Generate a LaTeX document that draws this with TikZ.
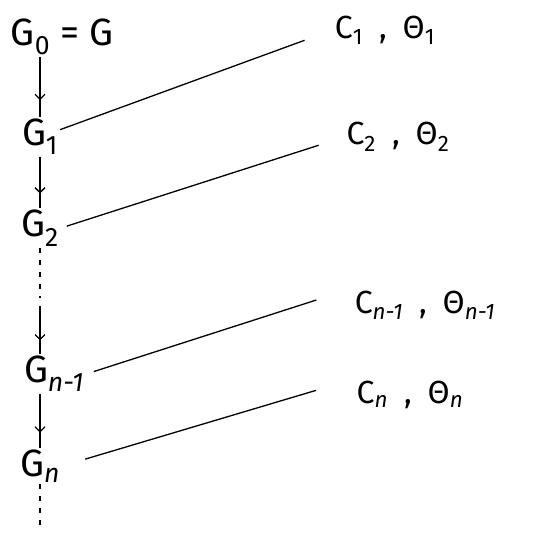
\documentclass[tikz,border=0pt]{standalone}
\usepackage{fontspec}
\setmainfont{Fira Sans}
\usetikzlibrary{arrows.meta, calc, decorations.markings}
\tikzset{
    gnode/.style={inner sep=2pt, font=\fontsize{38}{44}\selectfont},
    cnode/.style={inner sep=2pt, font=\fontsize{32}{36}\selectfont},
    link/.style={line width=1.3pt},
    midarrow/.style={line width=1.3pt, postaction={decorate},
        decoration={markings, mark=at position 0.72 with {\arrow{Straight Barb[length=5pt,width=10pt,line width=1.3pt]}}}},
    gapline/.style={line width=1.3pt, dash pattern=on 5pt off 7pt}
}

\begin{document}
\begin{tikzpicture}[x=1pt, y=-1pt]
    \useasboundingbox (0,0) rectangle (541,548);
    \node (g0) [gnode] at (62,37) {G\textsubscript{0} = G};
    \node (g1) [gnode] at (40,137) {G\textsubscript{1}};
    \node (g2) [gnode] at (40,228) {G\textsubscript{2}};
    \node (gn1) [gnode] at (54,374) {G\textsubscript{\itshape n-1}};
    \node (gn) [gnode] at (40,466) {G\textsubscript{\itshape n}};

    \node (c1) [cnode] at (385,30) {C\textsubscript{1}\enspace,\enspace Θ\textsubscript{1}};
    \node (c2) [cnode] at (398,137) {C\textsubscript{2}\enspace,\enspace Θ\textsubscript{2}};
    \node (cn1) [cnode] at (425,305) {C\textsubscript{\itshape n-1}\enspace,\enspace Θ\textsubscript{\itshape n-1}};
    \node (cn) [cnode] at (410,395) {C\textsubscript{\itshape n}\enspace,\enspace Θ\textsubscript{\itshape n}};

    \draw [midarrow] (g1.north |- g0.south) -- (g1.north);
    \draw [midarrow] (g2.north |- g1.south) -- (g2.north);
    \draw [gapline] (g2.south) -- ++(0,50);
    \draw [midarrow] ($(gn.north |- gn1.north)+(0,-48)$) -- (gn.north |- gn1.north);
    \draw [midarrow] (gn.north |- gn1.south) -- (gn.north);
    \draw [gapline] (gn.south) -- ++(0,45);

    \draw [link, shorten >=30pt] (g1.20) -- (c1.west);
    \draw [link, shorten <=6pt, shorten >=27pt] (g2.east) -- (c2.west);
    \draw [link, shorten <=8pt, shorten >=38pt] (gn1.east) -- (cn1.north west);
    \draw [link, shorten <=24pt, shorten >=40pt] (gn.east) -- (cn.north west);
\end{tikzpicture}
\end{document}
